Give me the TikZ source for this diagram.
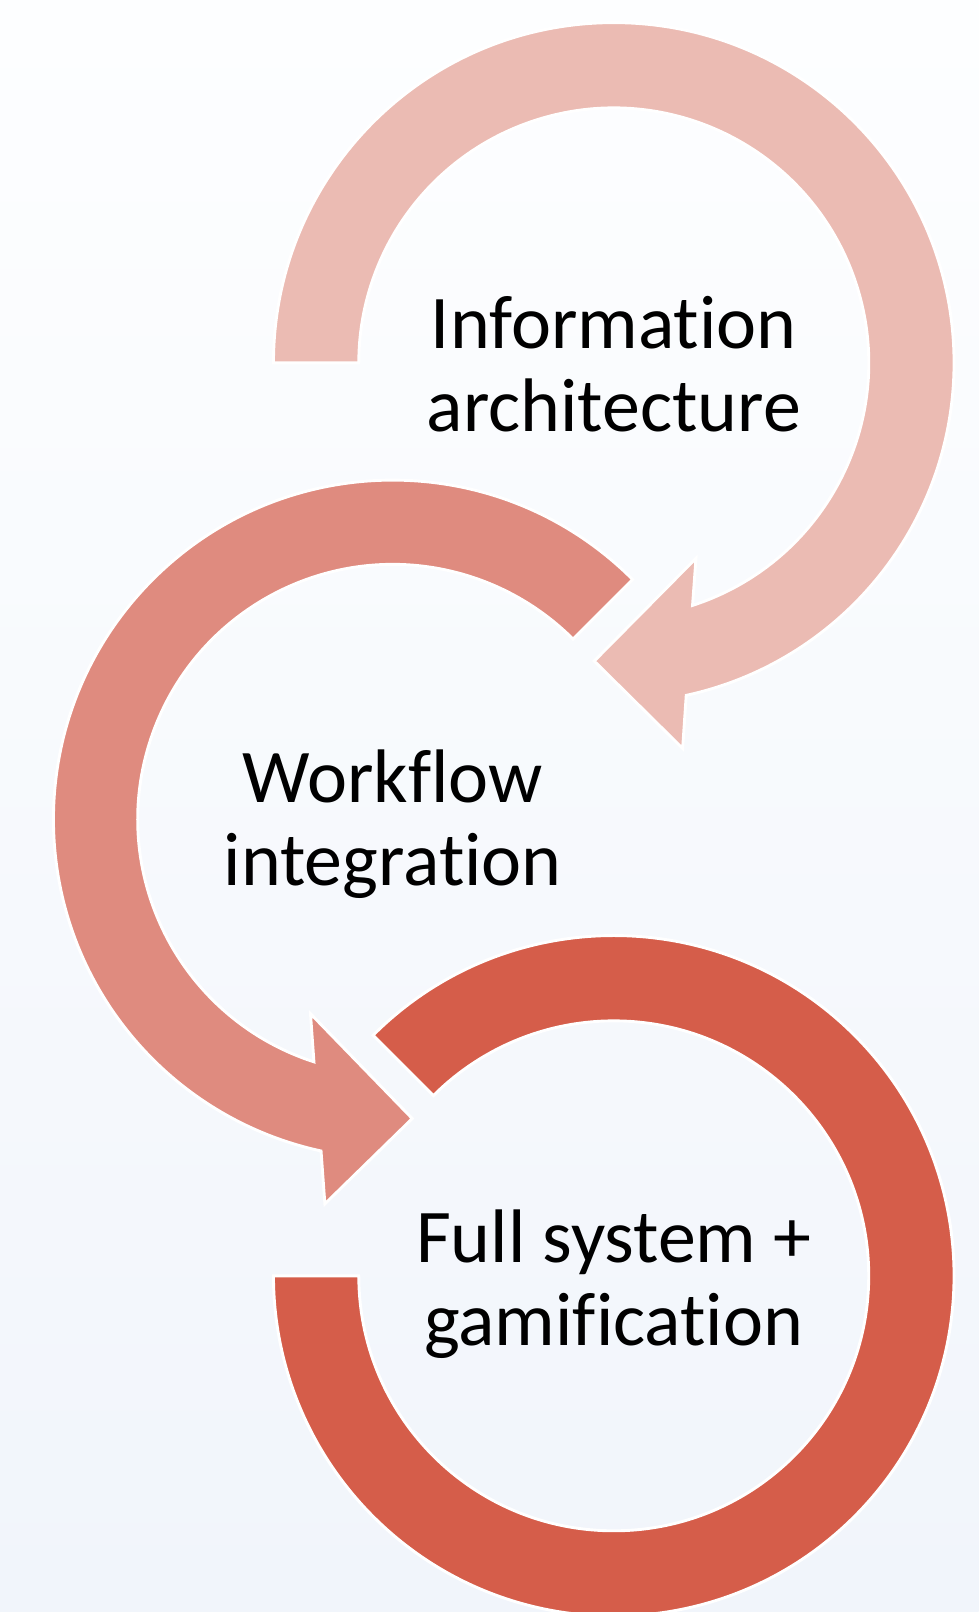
\documentclass[tikz,border=0pt]{standalone}
\usepackage{fontspec}
\setmainfont{Carlito}[Ligatures=NoCommon]
\usetikzlibrary{calc}

\definecolor{ringA}{RGB}{235,187,179}
\definecolor{ringB}{RGB}{223,139,127}
\definecolor{ringC}{RGB}{213,93,74}
\definecolor{bgtop}{RGB}{253,254,255}
\definecolor{bgbot}{RGB}{241,245,251}

\begin{document}
\begin{tikzpicture}[
    ring/.style={draw=white, line width=0.8pt, line join=miter},
    ringtext/.style={align=center, font=\fontsize{21}{23}\selectfont, text=black}]
            % background
            \shade[top color=bgtop, bottom color=bgbot] (0,0) rectangle (9.52,-15.68);
            \useasboundingbox (0,0) rectangle (9.52,-15.68);
            \coordinate (c1) at (5.97,-3.53);
            \coordinate (c2) at (3.82,-7.97);
            \coordinate (c3) at (5.97,-12.41);
            % first arrow
            \filldraw[ring, fill=ringA] ($(c1)+(180:3.31)$) arc[start angle=180, end angle=-77.7, radius=3.31]
                --($(c1)+(0.67,-3.75)$)--($(c1)+(-0.19,-2.90)$)--($(c1)+(0.80,-1.90)$)
                --($(c1)+(-72:2.48)$) arc[start angle=-72, end angle=180, radius=2.48]--cycle;
            % second arrow
            \filldraw[ring, fill=ringB] ($(c2)+(45:3.30)$) arc[start angle=45, end angle=257.8, radius=3.30]
                --($(c2)+(-0.66,-3.74)$)--($(c2)+(0.19,-2.91)$)--($(c2)+(-0.80,-1.89)$)
                --($(c2)+(252:2.48)$) arc[start angle=252, end angle=45, radius=2.48]--cycle;
            % last ring
            \filldraw[ring, fill=ringC] ($(c3)+(135:3.31)$) arc[start angle=135, end angle=-180, radius=3.31]
                --($(c3)+(180:2.48)$) arc[start angle=-180, end angle=135, radius=2.48]--cycle;
            \node[ringtext] (info) at ($(c1)+(0,-0.01)$) {Information\\architecture};
            \node[ringtext] (flow) at ($(c2)+(0,-0.05)$) {Workflow\\integration};
            \node[ringtext] (full) at ($(c3)+(0,-0.08)$) {Full system +\\gamification};
        \end{tikzpicture}
\end{document}
